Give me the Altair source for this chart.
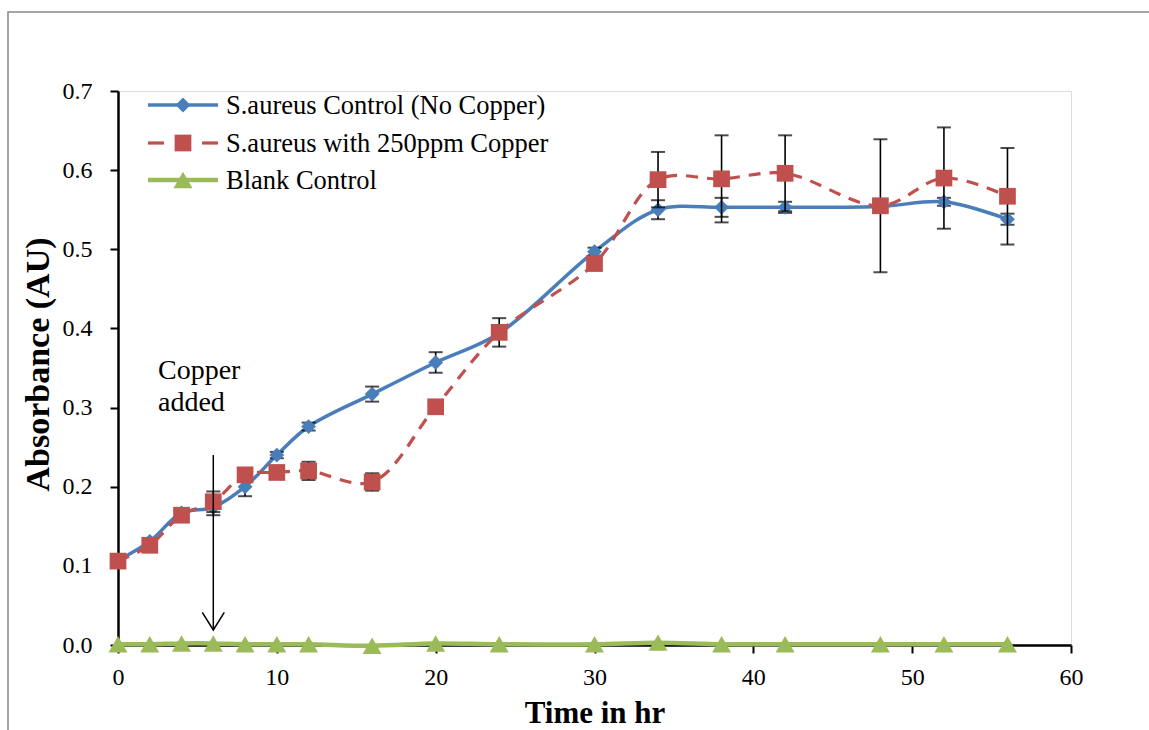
import altair as alt
import pandas as pd

# ---------------- data ----------------
times = [0, 2, 4, 6, 8, 10, 12, 16, 20, 24, 30, 34, 38, 42, 48, 52, 56]
control = [0.107, 0.131, 0.167, 0.174, 0.200, 0.240, 0.276, 0.317, 0.357, 0.394,
           0.497, 0.550, 0.553, 0.553, 0.554, 0.560, 0.538]
control_err = [0.003, 0.003, 0.004, 0.010, 0.012, 0.004, 0.005, 0.0095, 0.013, 0.005,
               0.005, 0.012, 0.012, 0.007, 0.005, 0.005, 0.007]
copper = [0.106, 0.126, 0.164, 0.181, 0.215, 0.218, 0.220, 0.206, 0.301, 0.395,
          0.482, 0.588, 0.589, 0.596, 0.555, 0.590, 0.567]
copper_err = [0.004, 0.004, 0.005, 0.013, 0.005, 0.005, 0.0115, 0.011, 0.006, 0.018,
              0.008, 0.035, 0.055, 0.048, 0.084, 0.064, 0.061]
blank = [0.001, 0.001, 0.002, 0.002, 0.001, 0.001, 0.001, -0.001, 0.002, 0.001,
         0.001, 0.003, 0.001, 0.001, 0.001, 0.001, 0.001]

series_names = ["S.aureus Control (No Copper)", "S.aureus with 250ppm Copper", "Blank Control"]
colors = ["#4A7EBB", "#C0504D", "#9BBB59"]
x_ticks = [0, 10, 20, 30, 40, 50, 60]
y_ticks = [0.0, 0.1, 0.2, 0.3, 0.4, 0.5, 0.6, 0.7]

arrow_time = 6
arrow_top, arrow_tip = 0.240, 0.019

FONT = "'Liberation Serif', 'Times New Roman', serif"
W, H = 953, 554

df = pd.DataFrame({
    "t": times,
    "control": control, "control_lo": [v - e for v, e in zip(control, control_err)],
    "control_hi": [v + e for v, e in zip(control, control_err)],
    "copper": copper, "copper_lo": [v - e for v, e in zip(copper, copper_err)],
    "copper_hi": [v + e for v, e in zip(copper, copper_err)],
    "blank": blank,
})

xs = alt.Scale(domain=[0, 60], nice=False)
ys = alt.Scale(domain=[0, 0.7], nice=False)

x_axis = alt.Axis(values=x_ticks, title="Time in hr", format="d", grid=False,
                  labelFlush=False, labelOverlap=False,
                  domainColor="black", domainWidth=2.5, tickColor="black", tickWidth=2,
                  tickSize=8, labelFont=FONT, labelFontSize=24, labelColor="black",
                  labelPadding=12, titleFont=FONT, titleFontSize=31, titleFontWeight="bold",
                  titleColor="black", titleX=W / 2, titleY=68, titleBaseline="middle",
                  titleAlign="center")
y_axis = alt.Axis(values=y_ticks, title="Absorbance (AU)", format=".1f", grid=False,
                  labelFlush=False, labelOverlap=False,
                  domainColor="black", domainWidth=2.5, tickColor="black", tickWidth=2,
                  tickSize=8, labelFont=FONT, labelFontSize=24, labelColor="black",
                  labelPadding=18, titleFont=FONT, titleFontSize=34, titleFontWeight="bold",
                  titleColor="black", titleX=-80, titleY=H / 2 - 4, titleAngle=-90,
                  titleAlign="center", titleBaseline="middle")

base = alt.Chart(df)
X = alt.X("t:Q", scale=xs, axis=x_axis)


def err_layers(lo, hi):
    rule = base.mark_rule(color="black", strokeWidth=1.6).encode(
        x=alt.X("t:Q", scale=xs), y=alt.Y(f"{lo}:Q", scale=ys), y2=f"{hi}:Q")
    cap_lo = base.mark_tick(color="black", orient="horizontal", size=14, thickness=2).encode(
        x=alt.X("t:Q", scale=xs), y=alt.Y(f"{lo}:Q", scale=ys))
    cap_hi = base.mark_tick(color="black", orient="horizontal", size=14, thickness=2).encode(
        x=alt.X("t:Q", scale=xs), y=alt.Y(f"{hi}:Q", scale=ys))
    return [rule, cap_lo, cap_hi]


ctrl_line = base.mark_line(color=colors[0], strokeWidth=3.5, interpolate="catmull-rom").encode(
    x=X, y=alt.Y("control:Q", scale=ys, axis=y_axis))
ctrl_pts = base.mark_point(shape="diamond", filled=True, opacity=1, color=colors[0], size=220).encode(
    x=alt.X("t:Q", scale=xs), y=alt.Y("control:Q", scale=ys))

cu_line = base.mark_line(color=colors[1], strokeWidth=3.2, strokeDash=[12, 9],
                         interpolate="catmull-rom").encode(
    x=alt.X("t:Q", scale=xs), y=alt.Y("copper:Q", scale=ys))
cu_pts = base.mark_point(shape="square", filled=True, opacity=1, color=colors[1], size=280).encode(
    x=alt.X("t:Q", scale=xs), y=alt.Y("copper:Q", scale=ys))

bl_line = base.mark_line(color=colors[2], strokeWidth=4.5, interpolate="catmull-rom").encode(
    x=alt.X("t:Q", scale=xs), y=alt.Y("blank:Q", scale=ys))
bl_pts = base.mark_point(shape="triangle-up", filled=True, opacity=1, color=colors[2], size=360).encode(
    x=alt.X("t:Q", scale=xs), y=alt.Y("blank:Q", scale=ys))

# ---------------- annotation ----------------
one = pd.DataFrame({"a": [0]})
arrow_df = pd.DataFrame({"t": [arrow_time], "top": [arrow_top], "tip": [arrow_tip]})
arrow_shaft = alt.Chart(arrow_df).mark_rule(color="black", strokeWidth=1.5).encode(
    x=alt.X("t:Q", scale=xs), y=alt.Y("top:Q", scale=ys), y2="tip:Q")
arrow_head = alt.Chart(arrow_df).mark_point(
    shape="M-1,-1.6L0,0L1,-1.6", filled=False, color="black", strokeWidth=1.5,
    size=484, opacity=1).encode(x=alt.X("t:Q", scale=xs), y=alt.Y("tip:Q", scale=ys))
note = alt.Chart(one).mark_text(text=["Copper", "added"], font=FONT, fontSize=28,
                                align="left", baseline="alphabetic", lineHeight=32,
                                color="black").encode(x=alt.value(40), y=alt.value(288))

# ---------------- legend ----------------
leg_layers = []
leg_y = [14, 52, 89]
shapes = ["diamond", "square", "triangle-up"]
sizes = [220, 280, 360]
widths = [3.5, 3.2, 4.5]
for i, name in enumerate(series_names):
    yv = alt.value(leg_y[i])
    if i == 1:
        for x1, x2 in [(30, 46), (84, 100)]:
            leg_layers.append(alt.Chart(one).mark_rule(color=colors[i], strokeWidth=widths[i]).encode(
                x=alt.value(x1), x2=alt.value(x2), y=yv))
    else:
        leg_layers.append(alt.Chart(one).mark_rule(color=colors[i], strokeWidth=widths[i]).encode(
            x=alt.value(30), x2=alt.value(100), y=yv))
    leg_layers.append(alt.Chart(one).mark_point(shape=shapes[i], filled=True, opacity=1,
                                                color=colors[i], size=sizes[i]).encode(
        x=alt.value(65), y=yv))
    leg_layers.append(alt.Chart(one).mark_text(text=name, font=FONT, fontSize=26.5, align="left",
                                               baseline="middle", color="black").encode(
        x=alt.value(108), y=alt.value(leg_y[i] + 1)))

border = alt.Chart(one).mark_rect(fill="transparent", stroke="#888888", strokeWidth=1.5).encode(
    x=alt.value(-110), x2=alt.value(1149 - 118 + 20), y=alt.value(-79), y2=alt.value(730 - 91 + 20))

chart = alt.layer(
    ctrl_line, *err_layers("control_lo", "control_hi"), ctrl_pts,
    cu_line, *err_layers("copper_lo", "copper_hi"), cu_pts,
    bl_line, bl_pts,
    arrow_shaft, arrow_head, note,
    *leg_layers, border,
).properties(
    width=W, height=H,
    autosize=alt.AutoSizeParams(type="none"),
    padding={"left": 118, "top": 91, "right": 78, "bottom": 85},
).configure_view(stroke=None).configure(background="white")

chart.save("out.html", embed_options={"renderer": "svg", "actions": False})
